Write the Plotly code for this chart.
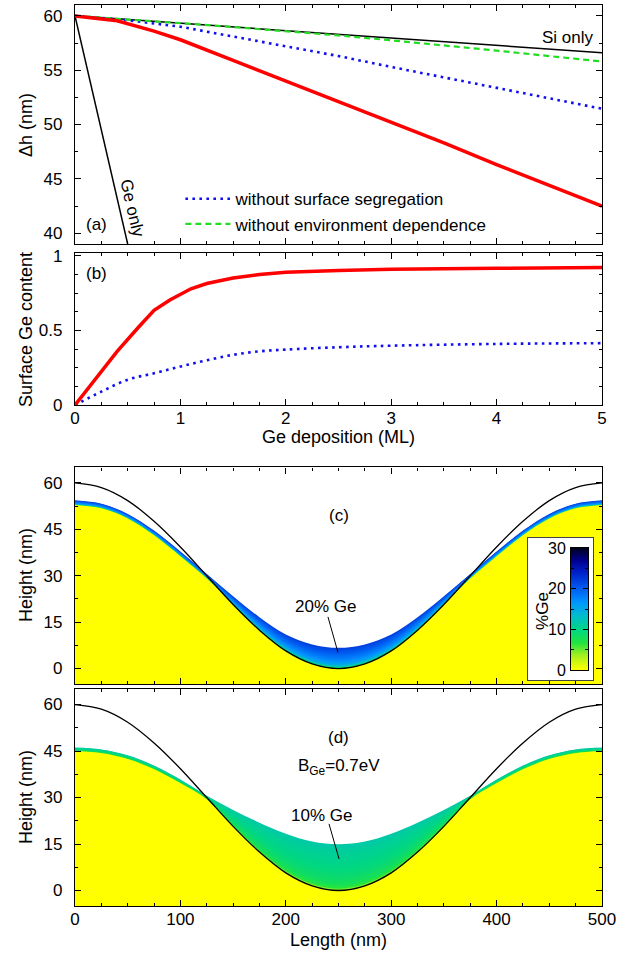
import numpy as np
import plotly.graph_objects as go
import plotly.colors as pc

# ---------------- data: panel (a) height difference vs Ge deposition ----------------
dh_full_x = [0, 0.4, 0.75, 1, 1.5, 2, 2.5, 3, 3.5, 4, 4.5, 5]
dh_full = [60, 59.55, 58.6, 57.8, 55.9, 54.0, 52.1, 50.2, 48.3, 46.3, 44.4, 42.5]
dh_noseg_x = [0, 0.5, 1, 1.5, 2, 2.5, 3, 3.5, 4, 4.5, 5]
dh_noseg = [60, 59.6, 59.0, 58.1, 57.2, 56.3, 55.3, 54.35, 53.4, 52.4, 51.45]
dh_noenv_x = [0, 0.5, 1, 1.5, 2, 2.5, 3, 3.5, 4, 4.5, 5]
dh_noenv = [60, 59.68, 59.33, 58.97, 58.6, 58.2, 57.75, 57.3, 56.8, 56.3, 55.8]
dh_si_x = [0, 5]
dh_si = [60, 56.6]
dh_ge_x = [0, 1]
dh_ge = [60, 18]

# ---------------- data: panel (b) surface Ge content ----------------
surf_full_x = [0, 0.2, 0.4, 0.6, 0.75, 0.9, 1, 1.1, 1.25, 1.5, 1.75, 2, 2.5, 3, 4, 5]
surf_full = [0, 0.18, 0.36, 0.52, 0.635, 0.705, 0.745, 0.78, 0.815, 0.852, 0.875, 0.89, 0.903, 0.91, 0.917, 0.922]
surf_noseg_x = [0, 0.25, 0.5, 0.75, 1, 1.25, 1.5, 1.75, 2, 2.5, 3, 4, 5]
surf_noseg = [0, 0.09, 0.17, 0.213, 0.258, 0.30, 0.337, 0.36, 0.372, 0.388, 0.398, 0.41, 0.415]

# ---------------- data: panels (c),(d) profiles ----------------
length_nm = [0, 25, 50, 75, 100, 125, 150, 175, 200, 225, 250,
             275, 300, 325, 350, 375, 400, 425, 450, 475, 500]
initial_height = [60.0, 58.5, 54.3, 47.6, 39.3, 30.0, 20.7, 12.4, 5.7, 1.5, 0.0,
                  1.5, 5.7, 12.4, 20.7, 30.0, 39.3, 47.6, 54.3, 58.5, 60.0]
surface_c = [54.4, 53.3, 50.0, 44.6, 37.8, 30.6, 23.4, 16.6, 11.0, 7.8, 6.7,
             7.8, 11.0, 16.6, 23.4, 30.6, 37.8, 44.6, 50.0, 53.3, 54.4]
surface_d = [46.1, 45.5, 43.6, 40.3, 35.8, 30.6, 26.0, 21.9, 18.3, 15.8, 14.9,
             15.8, 18.3, 21.9, 26.0, 30.6, 35.8, 40.3, 43.6, 45.5, 46.1]
cap_thickness_c = 1.5
cap_thickness_d = 1.2
# Ge content (%) in layers, from substrate (fraction 0) to surface (fraction 1)
layer_frac = [0, 0.04, 0.1, 0.16, 0.23, 0.3, 0.38, 0.46, 0.55, 0.64, 0.73, 0.82, 0.91, 1.0]
ge_band_c = [7, 11, 13.5, 15, 16, 16.8, 17.5, 18.2, 18.9, 19.6, 20.3, 21, 21.7]
ge_band_d = [4.5, 6.5, 7.6, 8.2, 8.7, 9.1, 9.5, 9.8, 10.2, 10.5, 10.8, 11.1, 11.6]

cbar_ticks = [0, 10, 20, 30]
ge_max = 30

ge_colorscale = [
    [0.0, 'rgb(255,255,0)'],
    [0.12, 'rgb(160,240,32)'],
    [0.22, 'rgb(32,228,64)'],
    [0.33, 'rgb(0,214,132)'],
    [0.45, 'rgb(0,188,205)'],
    [0.55, 'rgb(0,150,255)'],
    [0.67, 'rgb(0,90,240)'],
    [0.80, 'rgb(0,32,200)'],
    [0.90, 'rgb(0,0,144)'],
    [1.0, 'rgb(0,0,32)'],
]

FONT = "Liberation Sans, Arial, Helvetica, sans-serif"
fig = go.Figure()

# ---------------- panel (a) ----------------
fig.add_trace(go.Scatter(x=dh_si_x, y=dh_si, mode='lines', line=dict(color='black', width=1.5),
                         showlegend=False, xaxis='x', yaxis='y'))
fig.add_trace(go.Scatter(x=dh_ge_x, y=dh_ge, mode='lines', line=dict(color='black', width=1.5),
                         showlegend=False, xaxis='x', yaxis='y'))
fig.add_trace(go.Scatter(x=dh_noseg_x, y=dh_noseg, mode='lines', name='without surface segregation',
                         line=dict(color='#1010ee', width=2.6, dash='2.6px,4.4px'),
                         xaxis='x', yaxis='y'))
fig.add_trace(go.Scatter(x=dh_noenv_x, y=dh_noenv, mode='lines', name='without environment dependence',
                         line=dict(color='#22dd22', width=2.2, dash='6px,4px'),
                         xaxis='x', yaxis='y'))
fig.add_trace(go.Scatter(x=dh_full_x, y=dh_full, mode='lines', line=dict(color='#ff0000', width=3.5),
                         showlegend=False, xaxis='x', yaxis='y'))

# ---------------- panel (b) ----------------
fig.add_trace(go.Scatter(x=surf_noseg_x, y=surf_noseg, mode='lines',
                         line=dict(color='#1010ee', width=2.6, dash='2.6px,4.4px', shape='spline'),
                         showlegend=False, xaxis='x2', yaxis='y2'))
fig.add_trace(go.Scatter(x=surf_full_x, y=surf_full, mode='lines', line=dict(color='#ff0000', width=3.5),
                         showlegend=False, xaxis='x2', yaxis='y2'))


def profile_panel(surface, cap, ge_band, xa, ya, ymin):
    init = np.array(initial_height)
    surf = np.array(surface)
    lower = np.minimum(init, surf - cap)
    base = [ymin, ymin]
    # Ge-containing layers, drawn from the surface downward, each filled to the axis bottom
    for k in range(len(layer_frac) - 1, 0, -1):
        yk = lower + layer_frac[k] * (surf - lower)
        col = pc.sample_colorscale(ge_colorscale, [ge_band[k - 1] / ge_max])[0]
        fig.add_trace(go.Scatter(x=[length_nm[0], length_nm[-1]], y=base, mode='lines',
                                 line=dict(width=0), showlegend=False, hoverinfo='skip',
                                 xaxis=xa, yaxis=ya))
        fig.add_trace(go.Scatter(x=length_nm, y=yk, mode='lines', line=dict(width=0, shape='spline'),
                                 fill='tonexty', fillcolor=col, showlegend=False, hoverinfo='skip',
                                 xaxis=xa, yaxis=ya))
    # Si substrate
    fig.add_trace(go.Scatter(x=[length_nm[0], length_nm[-1]], y=base, mode='lines',
                             line=dict(width=0), showlegend=False, hoverinfo='skip',
                             xaxis=xa, yaxis=ya))
    fig.add_trace(go.Scatter(x=length_nm, y=lower, mode='lines', line=dict(width=0, shape='spline'),
                             fill='tonexty', fillcolor='#ffff00', showlegend=False, hoverinfo='skip',
                             xaxis=xa, yaxis=ya))
    fig.add_trace(go.Scatter(x=length_nm, y=initial_height, mode='lines',
                             line=dict(color='black', width=1.3, shape='spline'),
                             showlegend=False, xaxis=xa, yaxis=ya))


profile_panel(surface_c, cap_thickness_c, ge_band_c, 'x3', 'y3', -5)
profile_panel(surface_d, cap_thickness_d, ge_band_d, 'x4', 'y4', -5)

# ---------------- colour bar (c) ----------------
fig.add_trace(go.Scatter(x=[0, 1, 1, 0], y=[0, 0, 1, 1], fill='toself', fillcolor='white', mode='lines',
                         line=dict(width=0), showlegend=False, hoverinfo='skip', xaxis='x5', yaxis='y5'))
cbar_levels = np.linspace(0, ge_max, 121)
fig.add_trace(go.Heatmap(x=[0], y=cbar_levels, z=[[v] for v in cbar_levels], colorscale=ge_colorscale,
                         zmin=0, zmax=ge_max, showscale=False, xaxis='x6', yaxis='y6', hoverinfo='skip'))

# ---------------- axes ----------------
def ax(**kw):
    d = dict(showline=True, linecolor='black', linewidth=1.3, mirror='ticks', ticks='inside',
             ticklen=6, tickwidth=1.2, tickcolor='black', showgrid=False, zeroline=False, automargin=False,
             tickfont=dict(size=17, color='black', family=FONT))
    d.update(kw)
    return d

def minor(dt):
    return dict(ticks='inside', ticklen=3, tickwidth=1, tickcolor='black', dtick=dt, showgrid=False)

plain = dict(ticks='', showticklabels=False, showgrid=False, zeroline=False, automargin=False,
             showline=True, mirror=True)

layout_axes = dict(
    xaxis=ax(domain=[0, 1], anchor='y', range=[0, 5], dtick=1, minor=minor(0.25), showticklabels=False),
    yaxis=ax(domain=[0.7347, 1], anchor='x', range=[39, 61], tick0=0, dtick=5, minor=minor(2.5), ticklabelstandoff=8),
    xaxis2=ax(domain=[0, 1], anchor='y2', range=[0, 5], dtick=1, minor=minor(0.25), ticklabelstandoff=-3),
    yaxis2=ax(domain=[0.556, 0.7248], anchor='x2', range=[0, 1.02], tick0=0, dtick=0.5, minor=minor(0.125), ticklabelstandoff=8),
    xaxis3=ax(domain=[0, 1], anchor='y3', range=[0, 500], dtick=100, minor=minor(25), showticklabels=False),
    yaxis3=ax(domain=[0.2464, 0.4867], anchor='x3', range=[-5, 65], tick0=0, dtick=15, minor=minor(7.5), ticklabelstandoff=8),
    xaxis4=ax(domain=[0, 1], anchor='y4', range=[0, 500], dtick=100, minor=minor(25), ticklabelstandoff=-3),
    yaxis4=ax(domain=[0, 0.2408], anchor='x4', range=[-5, 65], tick0=0, dtick=15, minor=minor(7.5), ticklabelstandoff=8),
    xaxis5=dict(domain=[0.8596, 0.9829], anchor='y5', range=[0, 1], linecolor='#444', linewidth=1.2, **plain),
    yaxis5=dict(domain=[0.2508, 0.4084], anchor='x5', range=[0, 1], linecolor='#444', linewidth=1.2, **plain),
    xaxis6=dict(domain=[0.9412, 0.9734], anchor='y6', range=[-0.5, 0.5], linecolor='black', linewidth=1, **plain),
    yaxis6=ax(domain=[0.2619, 0.3973], anchor='x6', range=[0, ge_max], tickvals=cbar_ticks, ticklen=5,
              linewidth=1, minor=dict(ticks='inside', ticklen=3, tickwidth=1, tickcolor='black', dtick=5),
              tickfont=dict(size=16, color='black', family=FONT), ticklabelstandoff=1),
)

ann_font = dict(size=17, color='black', family=FONT)
title_font = dict(size=18, color='black', family=FONT)


def note(text, x, y, xref, yref, font=ann_font, angle=0):
    return dict(text=text, x=x, y=y, xref=xref, yref=yref, showarrow=False, font=font,
                textangle=angle, xanchor='center', yanchor='middle')


annotations = [
    note('Si only', 4.68, 58.05, 'x', 'y'),
    note('Ge only', 0.545, 42.3, 'x', 'y', angle=77),
    note('(a)', 0.2, 40.8, 'x', 'y'),
    note('(b)', 0.2, 0.88, 'x2', 'y2'),
    note('(c)', 250, 49.6, 'x3', 'y3'),
    note('20% Ge', 238, 20, 'x3', 'y3'),
    note('(d)', 250, 49.5, 'x4', 'y4'),
    note('B<sub>Ge</sub>=0.7eV', 250, 40, 'x4', 'y4'),
    note('10% Ge', 234, 24.3, 'x4', 'y4'),
    note('%Ge', 0.886, 0.3274, 'paper', 'paper', angle=-90),
    note('Δh (nm)', -0.093, 0.8668, 'paper', 'paper', font=title_font, angle=-90),
    note('Surface Ge content', -0.093, 0.6404, 'paper', 'paper', font=title_font, angle=-90),
    note('Height (nm)', -0.093, 0.3674, 'paper', 'paper', font=title_font, angle=-90),
    note('Height (nm)', -0.093, 0.121, 'paper', 'paper', font=title_font, angle=-90),
    note('Ge deposition (ML)', 0.5, 0.5205, 'paper', 'paper', font=title_font),
    note('Length (nm)', 0.5, -0.0377, 'paper', 'paper', font=title_font),
]

shapes = [
    dict(type='line', x0=240, y0=16.7, x1=249.5, y1=5.2, xref='x3', yref='y3', line=dict(color='black', width=1)),
    dict(type='line', x0=241, y0=21.5, x1=250.5, y1=10.2, xref='x4', yref='y4', line=dict(color='black', width=1)),
]

fig.update_layout(
    width=630, height=956,
    margin=dict(l=75, r=28, t=5, b=50, autoexpand=False),
    paper_bgcolor='white', plot_bgcolor='rgba(0,0,0,0)',
    font=dict(family=FONT, size=17, color='black'),
    legend=dict(x=0.2, y=0.8044, xanchor='left', yanchor='top', bgcolor='rgba(0,0,0,0)', traceorder='normal',
                font=dict(size=17, family=FONT), itemwidth=45, tracegroupgap=0),
    annotations=annotations, shapes=shapes,
    **layout_axes,
)

fig.write_html("out.html", config={'displayModeBar': False},
               post_script="document.body.style.margin='0px';document.body.style.overflow='hidden';")
